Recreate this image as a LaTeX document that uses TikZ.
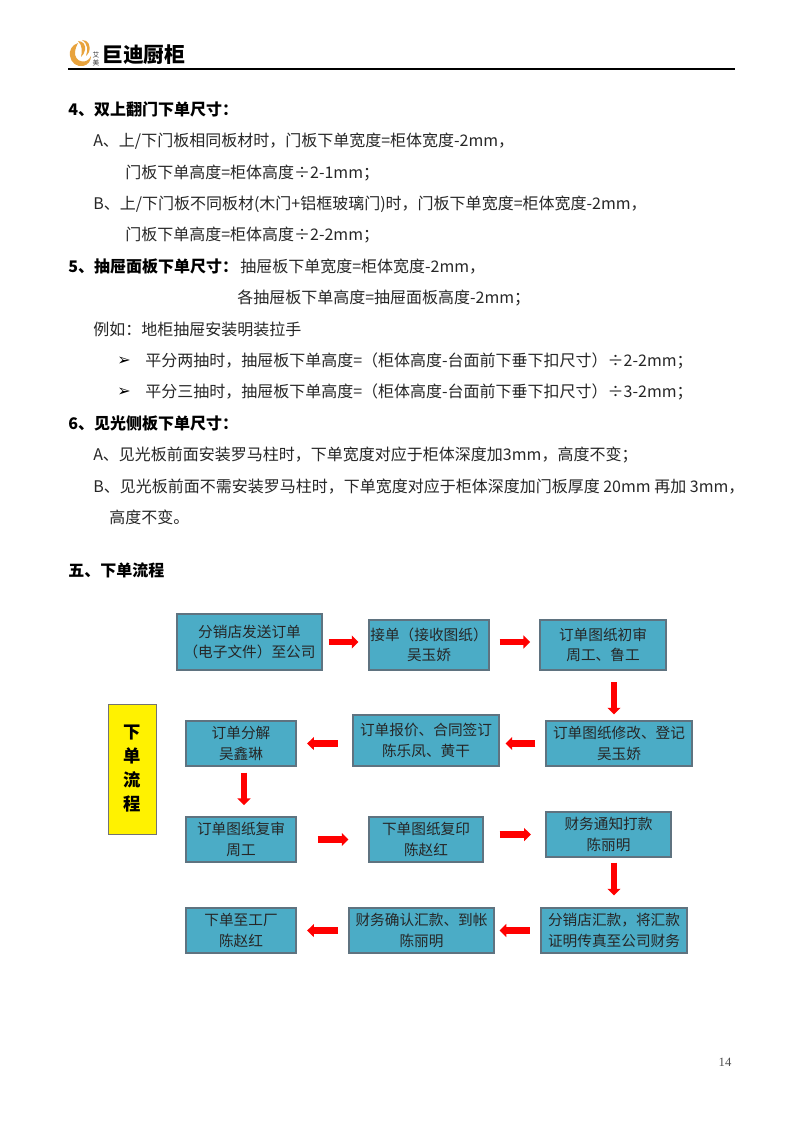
\documentclass[tikz,border=0pt]{standalone}
\usepackage{fontspec}
\setmainfont{Noto Sans CJK SC}
\newfontfamily\dejavu{DejaVu Sans}
\newfontfamily\pagenum{Liberation Serif}
\usetikzlibrary{arrows.meta}
\definecolor{boxfill}{HTML}{4BACC6}
\definecolor{boxline}{HTML}{5F7380}
\definecolor{logoorange}{HTML}{E8A33D}
\tikzset{
  x=0.75pt,y=-0.75pt,
  bodytext/.style={anchor=west,inner sep=0pt,yshift=-0.6pt,font=\fontsize{12}{14}\selectfont,text=black!85},
  headtext/.style={anchor=west,inner sep=0pt,yshift=-0.6pt,font=\fontsize{12}{14}\selectfont\bfseries,text=black},
  flowbox/.style={draw=boxline,line width=0.8pt,fill=boxfill,inner sep=0pt,align=center,
    font=\fontsize{11}{15.3}\selectfont,text=black!85},
  flowarrow/.style={draw=red,line width=4.8pt,-{Triangle[length=5pt,width=9.6pt]}},
}
\newcommand{\flownode}[6]{\node[flowbox,minimum width=#4*0.75pt-#2*0.75pt,minimum height=#5*0.75pt-#3*0.75pt] (#1) at ({(#2+#4)/2},{(#3+#5)/2}) {#6};}
\begin{document}
\begin{tikzpicture}
\useasboundingbox (0,0) rectangle (800,1131);
\fill[white] (0,0) rectangle (800,1131);
% header
\draw[line width=1.5pt] (68,69.5) coordinate (hl) -- (735,69.5) coordinate (hr);
\fill[logoorange] (78,43) .. controls (72,45) and (69,50) .. (70,56) .. controls (71,63) and (77,67) .. (83,66) .. controls (88,65) and (91,61) .. (91,56) .. controls (89,60) and (86,62) .. (82,61.5) .. controls (77,61) and (74.5,56) .. (75,52) .. controls (75.5,48) and (77,45) .. (78,43) -- cycle;
\fill[logoorange] (78,41) .. controls (83,41) and (86,45) .. (85,50) .. controls (84.5,53) and (83,55) .. (81,57) .. controls (82,52) and (83,46) .. (78,41) -- cycle;
\fill[logoorange] (82,40) .. controls (88,40) and (91,45) .. (89,52) .. controls (88,54) and (87,55) .. (86,56) .. controls (88,50) and (88,44) .. (82,40) -- cycle;
\node[inner sep=0pt,anchor=west,font=\fontsize{15.6}{15.6}\selectfont\bfseries,text=black] (logotext) at (102,55) {巨迪厨柜};
\node[inner sep=0pt,font=\fontsize{5}{5.6}\selectfont,align=center,text=black!80] (logosmall) at (96,59) {艾\\美};
% text
\node[headtext] (t1) at (68,109) {4、双上翻门下单尺寸：};
\node[bodytext] (t2) at (93,140) {A、上/下门板相同板材时，门板下单宽度=柜体宽度-2mm，};
\node[bodytext] (t3) at (125,172) {门板下单高度=柜体高度÷2-1mm；};
\node[bodytext] (t4) at (93,203) {B、上/下门板不同板材(木门+铝框玻璃门)时，门板下单宽度=柜体宽度-2mm，};
\node[bodytext] (t5) at (125,234) {门板下单高度=柜体高度÷2-2mm；};
\node[headtext] (t6) at (68,266) {5、抽屉面板下单尺寸：};
\node[bodytext] (t6b) at (240,266) {抽屉板下单宽度=柜体宽度-2mm，};
\node[bodytext] (t7) at (237,297) {各抽屉板下单高度=抽屉面板高度-2mm；};
\node[bodytext] (t8) at (93,329) {例如：地柜抽屉安装明装拉手};
\node[bodytext,text=black] (b1) at (117,360) {\dejavu ➢};
\node[bodytext] (t9) at (145,360) {平分两抽时，抽屉板下单高度=（柜体高度-台面前下垂下扣尺寸）÷2-2mm；};
\node[bodytext,text=black] (b2) at (117,391) {\dejavu ➢};
\node[bodytext] (t10) at (145,391) {平分三抽时，抽屉板下单高度=（柜体高度-台面前下垂下扣尺寸）÷3-2mm；};
\node[headtext] (t11) at (68,423) {6、见光侧板下单尺寸：};
\node[bodytext] (t12) at (93,454) {A、见光板前面安装罗马柱时，下单宽度对应于柜体深度加3mm，高度不变；};
\node[bodytext] (t13) at (93,486) {B、见光板前面不需安装罗马柱时，下单宽度对应于柜体深度加门板厚度 20mm 再加 3mm，};
\node[bodytext] (t14) at (109,517) {高度不变。};
\node[headtext] (t15) at (68,570) {五、下单流程};
\node[inner sep=0pt,font=\pagenum\fontsize{9.5}{10}\selectfont,text=black!70] (pg) at (725,1062) {14};
% side label
\node[draw=black!55,line width=0.7pt,fill=yellow,inner sep=0pt,minimum width=36pt,minimum height=97.5pt,align=center,
  font=\fontsize{13}{18}\selectfont\bfseries] (side) at (132,769) {下\\单\\流\\程};
% boxes
\flownode{n1}{177}{614}{322}{670}{分销店发送订单\\（电子文件）至公司}
\flownode{n2}{369}{620}{489}{670}{接单（接收图纸）\\吴玉娇}
\flownode{n3}{540}{620}{666}{670}{订单图纸初审\\周工、鲁工}
\flownode{n4}{546}{721}{692}{766}{订单图纸修改、登记\\吴玉娇}
\flownode{n5}{353}{715}{499}{766}{订单报价、合同签订\\陈乐凤、黄干}
\flownode{n6}{186}{721}{296}{766}{订单分解\\吴鑫琳}
\flownode{n7}{186}{817}{296}{862}{订单图纸复审\\周工}
\flownode{n8}{369}{817}{483}{862}{下单图纸复印\\陈赵红}
\flownode{n9}{546}{812}{671}{857}{财务通知打款\\陈丽明}
\flownode{n10}{541}{908}{687}{953}{分销店汇款，将汇款\\证明传真至公司财务}
\flownode{n11}{349}{908}{494}{953}{财务确认汇款、到帐\\陈丽明}
\flownode{n12}{186}{908}{296}{953}{下单至工厂\\陈赵红}
\coordinate (xa) at (614,0);
\coordinate (xb) at (244,0);
% connectors
\draw[flowarrow,shorten <=4.5pt,shorten >=7.5pt] (n1.east) -- (n1.east -| n2.west);
\draw[flowarrow,shorten <=7.5pt,shorten >=7pt] (n2.east |- n1.east) -- (n3.west |- n1.east);
\draw[flowarrow,shorten <=8.8pt,shorten >=4.5pt] (n3.south -| xa) -- (n4.north -| xa);
\draw[flowarrow,shorten <=7.5pt,shorten >=4.5pt] (n4.west) -- (n4.west -| n5.east);
\draw[flowarrow,shorten <=11pt,shorten >=8pt] (n5.west |- n6.west) -- (n6.east);
\draw[flowarrow,shorten <=4.5pt,shorten >=8.5pt] (n6.south -| xb) -- (n7.north -| xb);
\draw[flowarrow,shorten <=16pt,shorten >=15pt] (n7.east) -- (n7.east -| n8.west);
\draw[flowarrow,shorten <=12pt,shorten >=11pt] (n8.east |- n9.west) -- (n9.west);
\draw[flowarrow,shorten <=3.8pt,shorten >=9pt] (n9.south -| xa) -- (n10.north -| xa);
\draw[flowarrow,shorten <=8pt,shorten >=3.8pt] (n10.west) -- (n11.east);
\draw[flowarrow,shorten <=8pt,shorten >=8pt] (n11.west) -- (n12.east);
\end{tikzpicture}
\end{document}
